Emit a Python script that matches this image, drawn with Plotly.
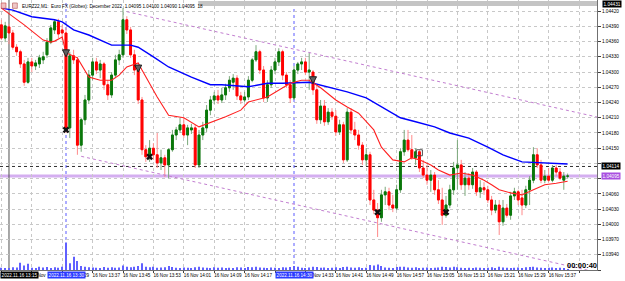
import pandas as pd
import plotly.graph_objects as go

DAY = "2022-11-16 "

# ---------------- candle data (M1 bars from 13:13 to 15:42) ----------------
opens = [
    1.04393, 1.04367, 1.04389, 1.04377, 1.04349, 1.04340, 1.04316, 1.04280, 1.04320, 1.04312,
    1.04316, 1.04324, 1.04334, 1.04359, 1.04383, 1.04399, 1.04383, 1.04377, 1.04190, 1.04332,
    1.04324, 1.04156, 1.04206, 1.04245, 1.04294, 1.04320, 1.04304, 1.04316, 1.04275, 1.04255,
    1.04294, 1.04324, 1.04334, 1.04403, 1.04383, 1.04334, 1.04304, 1.04245, 1.04147, 1.04133,
    1.04150, 1.04137, 1.04121, 1.04131, 1.04117, 1.04147, 1.04176, 1.04186, 1.04196, 1.04176,
    1.04186, 1.04190, 1.04117, 1.04176, 1.04190, 1.04225, 1.04245, 1.04253, 1.04245, 1.04255,
    1.04269, 1.04280, 1.04288, 1.04253, 1.04245, 1.04251, 1.04284, 1.04324, 1.04340, 1.04304,
    1.04249, 1.04275, 1.04304, 1.04320, 1.04340, 1.04294, 1.04275, 1.04249, 1.04304, 1.04316,
    1.04320, 1.04300, 1.04300, 1.04265, 1.04206, 1.04233, 1.04202, 1.04221, 1.04213, 1.04182,
    1.04196, 1.04127, 1.04221, 1.04186, 1.04176, 1.04156, 1.04127, 1.04137, 1.04048, 1.04028,
    1.04013, 1.04058, 1.04064, 1.04038, 1.04032, 1.04068, 1.04143, 1.04166, 1.04147, 1.04131,
    1.04143, 1.04111, 1.04097, 1.04087, 1.04097, 1.04068, 1.04048, 1.04018, 1.04038, 1.04068,
    1.04111, 1.04117, 1.04078, 1.04091, 1.04078, 1.04103, 1.04064, 1.04072, 1.04068, 1.04048,
    1.04028, 1.04038, 1.04005, 1.04032, 1.04018, 1.04056, 1.04064, 1.04052, 1.04038, 1.04068,
    1.04087, 1.04137, 1.04117, 1.04087, 1.04095, 1.04087, 1.04111, 1.04103, 1.04087, 1.04095,
]
highs = [
    1.04403, 1.04399, 1.04395, 1.04383, 1.04355, 1.04344, 1.04324, 1.04328, 1.04328, 1.04324,
    1.04334, 1.04340, 1.04367, 1.04393, 1.04403, 1.04405, 1.04393, 1.04387, 1.04340, 1.04344,
    1.04330, 1.04210, 1.04255, 1.04304, 1.04328, 1.04328, 1.04324, 1.04320, 1.04284, 1.04300,
    1.04334, 1.04344, 1.04426, 1.04410, 1.04389, 1.04344, 1.04312, 1.04251, 1.04156, 1.04166,
    1.04160, 1.04180, 1.04147, 1.04137, 1.04150, 1.04186, 1.04192, 1.04210, 1.04210, 1.04196,
    1.04198, 1.04196, 1.04186, 1.04202, 1.04235, 1.04253, 1.04261, 1.04265, 1.04269, 1.04277,
    1.04292, 1.04296, 1.04294, 1.04261, 1.04261, 1.04292, 1.04328, 1.04353, 1.04344, 1.04312,
    1.04284, 1.04312, 1.04328, 1.04347, 1.04344, 1.04300, 1.04284, 1.04312, 1.04320, 1.04328,
    1.04328, 1.04338, 1.04304, 1.04273, 1.04245, 1.04245, 1.04229, 1.04229, 1.04225, 1.04206,
    1.04202, 1.04229, 1.04229, 1.04202, 1.04186, 1.04162, 1.04150, 1.04143, 1.04068, 1.04042,
    1.04068, 1.04074, 1.04072, 1.04058, 1.04078, 1.04150, 1.04186, 1.04186, 1.04176, 1.04150,
    1.04147, 1.04127, 1.04117, 1.04107, 1.04103, 1.04087, 1.04072, 1.04056, 1.04078, 1.04123,
    1.04166, 1.04127, 1.04103, 1.04101, 1.04111, 1.04107, 1.04087, 1.04083, 1.04076, 1.04056,
    1.04048, 1.04048, 1.04048, 1.04040, 1.04064, 1.04072, 1.04068, 1.04068, 1.04076, 1.04095,
    1.04152, 1.04150, 1.04127, 1.04107, 1.04111, 1.04117, 1.04117, 1.04111, 1.04103, 1.04100,
]
lows = [
    1.04363, 1.04359, 1.04355, 1.04344, 1.04332, 1.04308, 1.04273, 1.04277, 1.04300, 1.04304,
    1.04308, 1.04316, 1.04328, 1.04355, 1.04375, 1.04367, 1.04363, 1.04180, 1.04170, 1.04316,
    1.04137, 1.04143, 1.04196, 1.04237, 1.04284, 1.04296, 1.04288, 1.04265, 1.04245, 1.04249,
    1.04288, 1.04314, 1.04328, 1.04375, 1.04328, 1.04294, 1.04237, 1.04137, 1.04123, 1.04123,
    1.04127, 1.04111, 1.04107, 1.04093, 1.04091, 1.04143, 1.04166, 1.04180, 1.04170, 1.04156,
    1.04178, 1.04111, 1.04111, 1.04166, 1.04182, 1.04215, 1.04237, 1.04237, 1.04239, 1.04245,
    1.04261, 1.04265, 1.04245, 1.04237, 1.04241, 1.04245, 1.04280, 1.04320, 1.04296, 1.04241,
    1.04241, 1.04269, 1.04296, 1.04312, 1.04284, 1.04269, 1.04239, 1.04245, 1.04296, 1.04304,
    1.04294, 1.04265, 1.04255, 1.04198, 1.04198, 1.04194, 1.04196, 1.04206, 1.04174, 1.04176,
    1.04121, 1.04123, 1.04178, 1.04166, 1.04147, 1.04117, 1.04115, 1.04038, 1.04020, 1.03975,
    1.04005, 1.04038, 1.04028, 1.04024, 1.04028, 1.04062, 1.04135, 1.04143, 1.04127, 1.04117,
    1.04103, 1.04091, 1.04078, 1.04064, 1.04058, 1.04040, 1.03999, 1.04013, 1.04032, 1.04058,
    1.04068, 1.04068, 1.04056, 1.04068, 1.04070, 1.04056, 1.04052, 1.04058, 1.04042, 1.04018,
    1.04022, 1.03979, 1.03997, 1.04013, 1.04009, 1.04048, 1.04038, 1.04018, 1.04032, 1.04038,
    1.04081, 1.04111, 1.04081, 1.04081, 1.04083, 1.04083, 1.04095, 1.04087, 1.04068, 1.04090,
]
closes = [
    1.04367, 1.04391, 1.04377, 1.04349, 1.04340, 1.04316, 1.04280, 1.04320, 1.04312, 1.04318,
    1.04328, 1.04330, 1.04359, 1.04387, 1.04399, 1.04375, 1.04377, 1.04190, 1.04332, 1.04324,
    1.04156, 1.04206, 1.04245, 1.04294, 1.04320, 1.04304, 1.04316, 1.04275, 1.04255, 1.04294,
    1.04324, 1.04334, 1.04403, 1.04383, 1.04334, 1.04304, 1.04245, 1.04147, 1.04133, 1.04150,
    1.04137, 1.04121, 1.04131, 1.04117, 1.04147, 1.04176, 1.04186, 1.04196, 1.04176, 1.04190,
    1.04190, 1.04117, 1.04176, 1.04190, 1.04225, 1.04245, 1.04253, 1.04245, 1.04255, 1.04269,
    1.04284, 1.04288, 1.04253, 1.04245, 1.04251, 1.04284, 1.04324, 1.04340, 1.04304, 1.04249,
    1.04275, 1.04304, 1.04320, 1.04340, 1.04294, 1.04275, 1.04249, 1.04304, 1.04316, 1.04320,
    1.04300, 1.04304, 1.04265, 1.04206, 1.04233, 1.04202, 1.04221, 1.04213, 1.04182, 1.04196,
    1.04127, 1.04221, 1.04186, 1.04176, 1.04156, 1.04127, 1.04137, 1.04048, 1.04028, 1.04013,
    1.04058, 1.04064, 1.04038, 1.04032, 1.04068, 1.04143, 1.04166, 1.04147, 1.04131, 1.04143,
    1.04111, 1.04097, 1.04087, 1.04097, 1.04068, 1.04048, 1.04018, 1.04038, 1.04068, 1.04111,
    1.04117, 1.04078, 1.04091, 1.04078, 1.04103, 1.04064, 1.04072, 1.04068, 1.04048, 1.04028,
    1.04038, 1.04005, 1.04032, 1.04018, 1.04056, 1.04064, 1.04048, 1.04038, 1.04068, 1.04087,
    1.04137, 1.04117, 1.04087, 1.04095, 1.04087, 1.04111, 1.04103, 1.04091, 1.04095, 1.04095,
]
volumes = [
    20, 15, 18, 25, 22, 64, 40, 55, 20, 18,
    30, 22, 26, 18, 24, 20, 28, 245, 60, 118,
    80, 35, 30, 25, 22, 20, 18, 26, 20, 24,
    20, 22, 40, 28, 24, 30, 35, 60, 30, 25,
    28, 20, 22, 24, 35, 26, 20, 18, 22, 20,
    18, 24, 30, 22, 20, 18, 24, 20, 22, 18,
    20, 18, 24, 22, 18, 26, 24, 30, 22, 20,
    18, 22, 20, 18, 24, 22, 26, 35, 28, 20,
    18, 22, 30, 26, 20, 22, 18, 20, 24, 18,
    26, 30, 22, 20, 24, 18, 20, 45, 40, 50,
    35, 22, 20, 18, 26, 30, 28, 22, 20, 24,
    18, 20, 22, 18, 20, 22, 30, 26, 22, 28,
    24, 20, 18, 20, 18, 22, 20, 18, 20, 24,
    18, 28, 22, 20, 18, 20, 22, 18, 24, 26,
    30, 22, 20, 18, 20, 22, 18, 20, 16, 8,
]
bar_times = pd.date_range(DAY + "13:13", periods=len(opens), freq="min")

# ---------------- moving averages ----------------
red_ma_times = ["13:13", "13:19", "13:24", "13:26", "13:27", "13:29", "13:30", "13:33", "13:36",
                "13:39", "13:42", "13:44", "13:46", "13:49", "13:50", "13:54", "13:57", "14:01",
                "14:05", "14:08", "14:12", "14:16", "14:18", "14:23", "14:26", "14:29", "14:32",
                "14:34", "14:37", "14:41", "14:44", "14:47", "14:51", "14:53", "14:56", "14:59",
                "15:01", "15:03", "15:06", "15:08", "15:11", "15:14", "15:17", "15:20", "15:22",
                "15:24", "15:27", "15:30", "15:33", "15:36", "15:39", "15:42"]
red_ma = [1.04426, 1.04393, 1.04363, 1.04359, 1.04361, 1.04369, 1.04338, 1.04328, 1.04290,
          1.04284, 1.04284, 1.04294, 1.04310, 1.04318, 1.04304, 1.04251, 1.04215, 1.04210,
          1.04192, 1.04200, 1.04212, 1.04225, 1.04241, 1.04251, 1.04265, 1.04278, 1.04284,
          1.04284, 1.04269, 1.04245, 1.04231, 1.04219, 1.04186, 1.04152, 1.04127, 1.04123,
          1.04131, 1.04127, 1.04117, 1.04107, 1.04097, 1.04101, 1.04097, 1.04087, 1.04078,
          1.04068, 1.04062, 1.04058, 1.04068, 1.04078, 1.04081, 1.04085]
blue_ma_times = ["13:13", "13:16", "13:21", "13:27", "13:29", "13:32", "13:36", "13:39", "13:42",
                 "13:47", "13:49", "13:53", "13:57", "14:03", "14:08", "14:11", "14:18", "14:23",
                 "14:27", "14:34", "14:39", "14:44", "14:49", "14:58", "15:02", "15:07", "15:11",
                 "15:16", "15:21", "15:25", "15:30", "15:36", "15:42"]
blue_ma = [1.04426, 1.04422, 1.04409, 1.04403, 1.04399, 1.04383, 1.04373, 1.04363, 1.04353,
           1.04353, 1.04349, 1.04330, 1.04310, 1.04290, 1.04275, 1.04275, 1.04271, 1.04278,
           1.04278, 1.04280, 1.04271, 1.04261, 1.04249, 1.04210, 1.04202, 1.04192, 1.04180,
           1.04170, 1.04152, 1.04137, 1.04123, 1.04121, 1.04119]

# ---------------- drawn objects ----------------
channel_upper_times = ["13:46", "15:50"]
channel_upper = [1.04419, 1.04211]
channel_lower_times = ["13:34", "15:50"]
channel_lower = [1.04134, 1.03905]

sell_arrow_times = ["13:30", "13:49", "14:35"]
sell_arrow_prices = [1.04330, 1.04300, 1.04277]
close_x_times = ["13:30", "13:52", "14:52", "15:10"]
close_x_prices = [1.04186, 1.04133, 1.04024, 1.04024]
order_box_times = ["15:03"]
order_box_prices = [1.04141]

ask_line = 1.04114
bid_line = 1.04095
top_price = 1.04431
vline_black = "13:15"
vline_blue = ["13:30", "14:30"]

# time-axis labels as they are visible (some are partly hidden by the line labels)
x_tick_anchor = ["13:23:33", "13:35:24", "13:40:36", "13:48:36", "13:56:36", "14:04:36",
                 "14:12:36", "14:20:36", "14:37:40", "14:44:36", "14:52:36", "15:00:36",
                 "15:08:36", "15:16:36", "15:24:36", "15:32:36", "15:40:36"]
x_tick_labels = ["Nov", "29", "16 Nov 13:37", "16 Nov 13:45", "16 Nov 13:53", "16 Nov 14:01",
                 "16 Nov 14:09", "16 Nov 14:17", "Nov 14:33", "16 Nov 14:41", "16 Nov 14:49",
                 "16 Nov 14:57", "16 Nov 15:05", "16 Nov 15:13", "16 Nov 15:21", "16 Nov 15:29",
                 "16 Nov 15:37"]
y_tick_labels = ["1.03940", "1.03970", "1.04000", "1.04030", "1.04060", "1.04150", "1.04180",
                 "1.04210", "1.04240", "1.04270", "1.04300", "1.04330", "1.04360", "1.04390",
                 "1.04420"]

title_text = "EURZ22,M1:  Euro FX (Globex): December 2022  1.04095 1.04100 1.04090 1.04095  18"
countdown = "00:00:40"


def T(hm):
    return pd.Timestamp(DAY + hm)


FONT = "Liberation Sans"
GREEN = "#0a780a"
RED = "#ff0000"
GREEN_WICK = "#7aa87a"
RED_WICK = "#ff8a8a"

body_top = [max(o, c) for o, c in zip(opens, closes)]
body_bot = [min(o, c) for o, c in zip(opens, closes)]

fig = go.Figure()

fig.add_trace(go.Bar(
    x=bar_times, y=volumes, yaxis="y2", width=15000,
    marker=dict(color="#6060ff", line=dict(width=0)), hoverinfo="skip", showlegend=False))

fig.add_trace(go.Scatter(
    x=[T(t) for t in channel_upper_times], y=channel_upper, mode="lines",
    line=dict(color="#c27ed0", width=1, dash="dot"), hoverinfo="skip", showlegend=False))
fig.add_trace(go.Scatter(
    x=[T(t) for t in channel_lower_times], y=channel_lower, mode="lines",
    line=dict(color="#c27ed0", width=1, dash="dot"), hoverinfo="skip", showlegend=False))

# wicks (light) then bodies (dark)
fig.add_trace(go.Candlestick(
    x=bar_times, open=opens, high=highs, low=lows, close=closes,
    increasing=dict(line=dict(color=GREEN_WICK, width=1), fillcolor=GREEN_WICK),
    decreasing=dict(line=dict(color=RED_WICK, width=1), fillcolor=RED_WICK),
    whiskerwidth=0, showlegend=False, hoverinfo="skip"))
fig.add_trace(go.Candlestick(
    x=bar_times, open=opens, high=body_top, low=body_bot, close=closes,
    increasing=dict(line=dict(color=GREEN, width=1), fillcolor=GREEN),
    decreasing=dict(line=dict(color=RED, width=1), fillcolor=RED),
    whiskerwidth=0, showlegend=False, hoverinfo="skip"))

fig.add_trace(go.Scatter(
    x=[T(t) for t in blue_ma_times], y=blue_ma, mode="lines",
    line=dict(color="#0000ff", width=1.4), hoverinfo="skip", showlegend=False))
fig.add_trace(go.Scatter(
    x=[T(t) for t in red_ma_times], y=red_ma, mode="lines",
    line=dict(color="#ff2020", width=1.1), hoverinfo="skip", showlegend=False))

fig.add_trace(go.Scatter(
    x=[T(t) for t in sell_arrow_times], y=sell_arrow_prices, mode="markers",
    marker=dict(symbol="arrow-down", size=7, color="#606060", line=dict(color="#202020", width=1)),
    hoverinfo="skip", showlegend=False))
fig.add_trace(go.Scatter(
    x=[T(t) for t in close_x_times], y=close_x_prices, mode="markers",
    marker=dict(symbol="x", size=6, color="#101010", line=dict(width=0)),
    hoverinfo="skip", showlegend=False))
fig.add_trace(go.Scatter(
    x=[T(t) for t in order_box_times], y=order_box_prices, mode="markers",
    marker=dict(symbol="square-open", size=6, color="#505050", line=dict(width=1)),
    hoverinfo="skip", showlegend=False))

shapes = [
    dict(type="line", xref="paper", x0=0, x1=1, yref="y", y0=bid_line, y1=bid_line,
         line=dict(color="#d4aef0", width=3), layer="below"),
    dict(type="line", xref="paper", x0=0, x1=1, yref="y", y0=ask_line, y1=ask_line,
         line=dict(color="#303030", width=1, dash="dot"), layer="below"),
    dict(type="line", xref="x", x0=T(vline_black), x1=T(vline_black), yref="paper", y0=0, y1=1,
         line=dict(color="#505050", width=1), layer="below"),
    dict(type="rect", xref="paper", x0=0.332, x1=1, yref="paper", y0=0.978, y1=0.996,
         fillcolor="#c4c4c4", line=dict(width=0), layer="above"),
    # two small window icons in the top-left corner
    dict(type="rect", xref="paper", x0=0.002, x1=0.010, yref="paper", y0=0.969, y1=0.989,
         fillcolor="#f0c0c0", line=dict(color="#c04040", width=0.6), layer="above"),
    dict(type="rect", xref="paper", x0=0.021, x1=0.029, yref="paper", y0=0.969, y1=0.989,
         fillcolor="#f0c8c8", line=dict(color="#b05050", width=0.6), layer="above"),
]
for t in vline_blue:
    shapes.append(dict(type="line", xref="x", x0=T(t), x1=T(t), yref="paper", y0=0, y1=1,
                       line=dict(color="#5a5aff", width=1, dash="dot"), layer="below"))

annotations = [
    dict(text=title_text, xref="paper", yref="paper", x=0.033, y=0.976, xanchor="left",
         yanchor="middle", showarrow=False, font=dict(family=FONT, size=4.6, color="#000000")),
    dict(text=f"{top_price:.5f}", xref="paper", yref="paper", x=1, y=0.985, xanchor="left",
         yanchor="middle", xshift=5, showarrow=False, bgcolor="#000000", borderpad=0.5,
         font=dict(family=FONT, size=4.7, color="#ffffff")),
    dict(text=f"{ask_line:.5f}", xref="paper", yref="y", x=1, y=ask_line, xanchor="left",
         yanchor="middle", xshift=4, showarrow=False, bgcolor="#000000", borderpad=0.5,
         font=dict(family=FONT, size=4.7, color="#ffffff")),
    dict(text=f"{bid_line:.5f}", xref="paper", yref="y", x=1, y=bid_line, xanchor="left",
         yanchor="middle", xshift=4, showarrow=False, bgcolor="#a84fe0", borderpad=0.5,
         font=dict(family=FONT, size=4.7, color="#ffffff")),
    dict(text="2022.11.16 " + vline_black, xref="paper", yref="paper", x=0, y=-0.0185,
         xanchor="left", yanchor="middle", showarrow=False, bgcolor="#000000", borderpad=0.6,
         font=dict(family=FONT, size=4.6, color="#ffffff")),
    dict(text=f"<b>{countdown}</b>", xref="paper", yref="paper", x=1, y=0.016, xanchor="right",
         yanchor="middle", xshift=2, showarrow=False,
         font=dict(family=FONT, size=7.5, color="#000000")),
]
for t in vline_blue:
    annotations.append(dict(text="2022.11.16 " + t, xref="x", yref="paper", x=T(t), y=-0.0185,
                            xanchor="center", yanchor="middle", showarrow=False,
                            bgcolor="#2c3cff", borderpad=0.6,
                            font=dict(family=FONT, size=4.6, color="#ffffff")))

fig.update_layout(
    width=625, height=281,
    margin=dict(l=0, r=28, t=0, b=11, autoexpand=False),
    paper_bgcolor="#ffffff", plot_bgcolor="#ffffff",
    showlegend=False, hovermode=False,
    shapes=shapes, annotations=annotations,
    xaxis=dict(
        type="date",
        range=[DAY + "13:12:38", DAY + "15:49:44"],
        rangeslider=dict(visible=False),
        tickmode="array",
        tickvals=[T(t) for t in x_tick_anchor],
        ticktext=x_tick_labels,
        tickangle=0, automargin=False,
        ticks="", showgrid=False,
        tickfont=dict(family=FONT, size=4.6, color="#000000"),
        showline=True, linecolor="#707070", linewidth=1,
        minor=dict(tick0=DAY + "13:05", dtick=480000, showgrid=True, gridcolor="#c8c8c8",
                   griddash="dot", gridwidth=1, ticks="outside", ticklen=2, tickcolor="#404040"),
        zeroline=False, fixedrange=True,
    ),
    yaxis=dict(
        side="right", range=[1.03910, 1.04442],
        tickmode="array",
        tickvals=[float(v) for v in y_tick_labels], ticktext=y_tick_labels,
        tickangle=0, automargin=False,
        showgrid=False,
        ticks="outside", ticklen=3, tickcolor="#404040",
        tickfont=dict(family=FONT, size=4.7, color="#000000"),
        showline=True, linecolor="#707070", linewidth=1,
        minor=dict(tick0=1.0394, dtick=0.0003, showgrid=True, gridcolor="#c8c8c8",
                   griddash="dot", gridwidth=1, ticks="outside", ticklen=3, tickcolor="#404040"),
        zeroline=False, fixedrange=True,
    ),
    yaxis2=dict(overlaying="y", range=[0, 2400], visible=False, fixedrange=True),
)

fig.write_html("out.html")
